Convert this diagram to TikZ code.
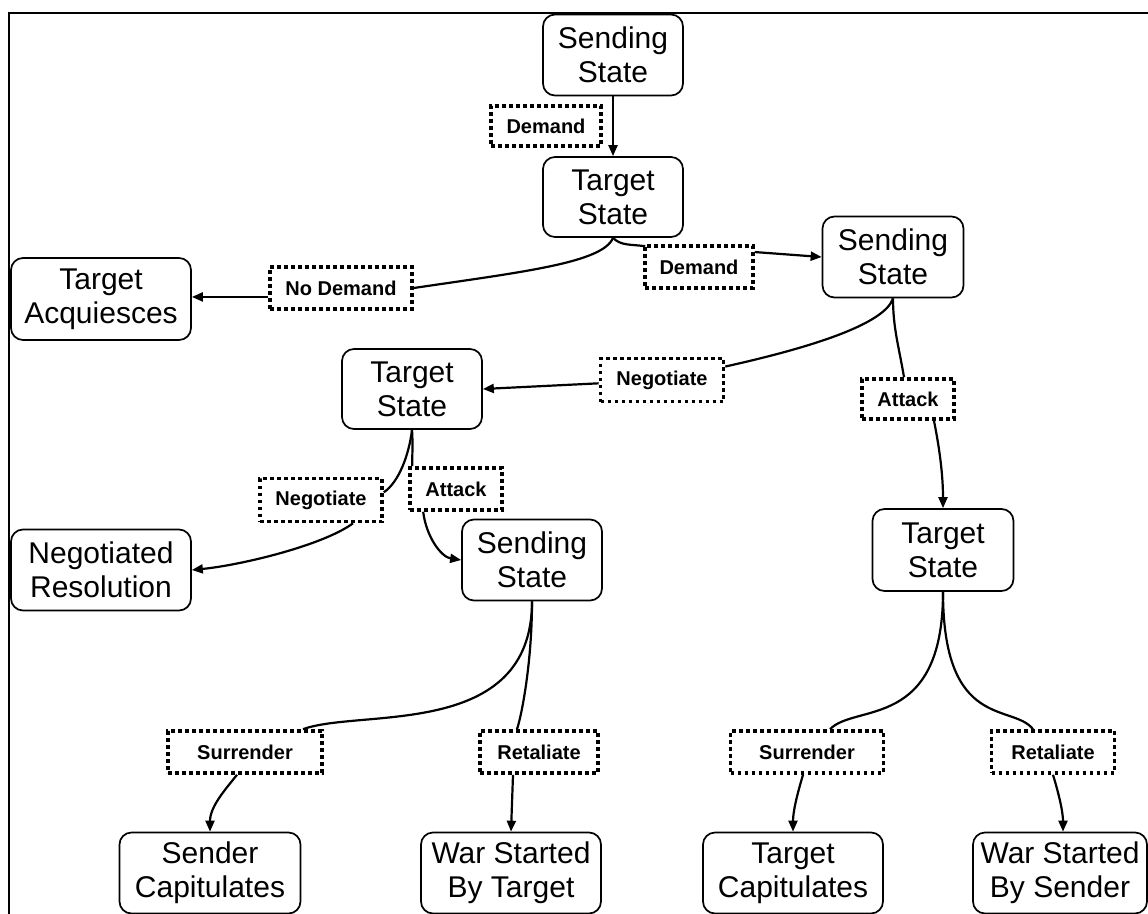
\documentclass[tikz,border=0pt]{standalone}
\usepackage{fontspec}
\setmainfont{Liberation Sans}
\usetikzlibrary{arrows.meta}
\tikzset{
  statebox/.style={draw=black, line width=1.7pt, rounded corners=12pt, inner sep=0pt,
    align=center, font=\fontsize{30}{34}\selectfont},
  actbox/.style={draw=black, line width=3.6pt, dash pattern=on 3.8pt off 3.2pt, inner sep=0pt,
    align=center, font=\fontsize{20}{22}\selectfont\bfseries},
  link/.style={line width=2.2pt, draw=black},
  arr/.style={link, -{Triangle[length=11pt,width=9pt]}},
  frameline/.style={line width=2.5pt, draw=black}
}
\begin{document}
\begin{tikzpicture}[x=1pt,y=-1pt]
\useasboundingbox (0,0) rectangle (1148,913);
\fill[white] (0,0) rectangle (1148,913);
% frame
\coordinate (fbl) at (9,915);
\coordinate (ftl) at (9,13);
\coordinate (ftr) at (1150,13);
\draw[frameline] (fbl) -- (ftl) -- (ftr);

% state boxes
\node[statebox, minimum width=140pt, minimum height=81pt] (s1) at (613,55) {Sending\\State};
\node[statebox, minimum width=140pt, minimum height=80pt] (t1) at (613,197) {Target\\State};
\node[statebox, minimum width=180pt, minimum height=82pt] (acq) at (101,299) {Target\\Acquiesces};
\node[statebox, minimum width=141pt, minimum height=81pt] (s2) at (893,257) {Sending\\State};
\node[statebox, minimum width=140pt, minimum height=80pt] (t2) at (412,389) {Target\\State};
\node[statebox, minimum width=180pt, minimum height=81pt] (res) at (101,570) {Negotiated\\Resolution};
\node[statebox, minimum width=140pt, minimum height=81pt] (s3) at (532,560) {Sending\\State};
\node[statebox, minimum width=141pt, minimum height=82pt] (t3) at (943,550) {Target\\State};
\node[statebox, minimum width=181pt, minimum height=81pt] (scap) at (210,873) {Sender\\Capitulates};
\node[statebox, minimum width=180pt, minimum height=81pt] (wtar) at (511,873) {War Started\\By Target};
\node[statebox, minimum width=180pt, minimum height=81pt] (tcap) at (793,873) {Target\\Capitulates};
\node[statebox, minimum width=174pt, minimum height=81pt] (wsen) at (1060,873) {War Started\\By Sender};

% action labels
\node[actbox, minimum width=110pt, minimum height=40pt] (dem1) at (546,126) {Demand};
\node[actbox, minimum width=142pt, minimum height=42pt] (nod) at (341,288) {No Demand};
\node[actbox, minimum width=108pt, minimum height=42pt] (dem2) at (699,267) {Demand};
\node[actbox, minimum width=123pt, minimum height=43pt] (neg1) at (662,380) {Negotiate};
\node[actbox, minimum width=92pt, minimum height=40pt] (att1) at (908,399) {Attack};
\node[actbox, minimum width=122pt, minimum height=43pt] (neg2) at (321,500) {Negotiate};
\node[actbox, minimum width=92pt, minimum height=42pt] (att2) at (456,489) {Attack};
\node[actbox, minimum width=154pt, minimum height=42pt] (sur1) at (245,752) {Surrender};
\node[actbox, minimum width=118pt, minimum height=42pt] (ret1) at (539,752) {Retaliate};
\node[actbox, minimum width=153pt, minimum height=42pt] (sur2) at (807,752) {Surrender};
\node[actbox, minimum width=123pt, minimum height=42pt] (ret2) at (1053,752) {Retaliate};

% connectors
\draw[arr] (s1.south) -- (t1.north);

\draw[link] (t1.south) .. controls +(-10,25) and +(108,-16) .. (nod.east);
\draw[arr] (nod.187) -- (nod.187 -| acq.east);

\draw[link] (t1.south) .. controls +(8,8) and +(-15,-2) .. ([xshift=2pt,yshift=-2pt]dem2.north west);
\draw[arr] (dem2.15) -- (s2.west);

\draw[link] (s2.south) .. controls +(-8,25) and +(90,-20) .. (neg1.12);
\draw[arr] (neg1.183) -- (t2.east);

\draw[link] (s2.south) .. controls +(0,30) and +(-5,-30) .. ([xshift=-4pt]att1.north);
\draw[arr] (att1.-40) .. controls +(5,25) and +(0,-35) .. (t3.north);

\draw[link] (t2.south) .. controls +(-3,25) and +(15,-10) .. (neg2.7);
\draw[arr] ([xshift=32pt]neg2.south) .. controls +(-30,22) and +(50,-5) .. (res.east);

\draw[link] (t2.south) .. controls +(1,15) and +(0,-15) .. ([xshift=4pt]att2.north west);
\draw[arr] ([xshift=15pt]att2.south west) .. controls +(3,25) and +(-20,-3) .. (s3.west);

\draw[link] (s3.south) .. controls +(0,139) and +(57,-21) .. ([xshift=58pt]sur1.north);
\draw[arr] ([xshift=-8pt]sur1.south) .. controls +(-12,15) and +(0,-25) .. (scap.north);

\draw[link] (s3.south) .. controls +(0,60) and +(5,-15) .. ([xshift=-22pt]ret1.north);
\draw[arr] ([xshift=-26pt]ret1.south) -- (wtar.north);

\draw[link] (t3.south) .. controls +(0,139) and +(25,-26) .. ([xshift=23pt]sur2.north);
\draw[arr] ([xshift=-4pt]sur2.south) .. controls +(-6,20) and +(0,-20) .. (tcap.north);

\draw[link] (t3.south) .. controls +(0,139) and +(-20,-26) .. ([xshift=-20pt]ret2.north);
\draw[arr] (ret2.south) .. controls +(6,20) and +(0,-20) .. ([xshift=3pt]wsen.north);
\end{tikzpicture}
\end{document}
